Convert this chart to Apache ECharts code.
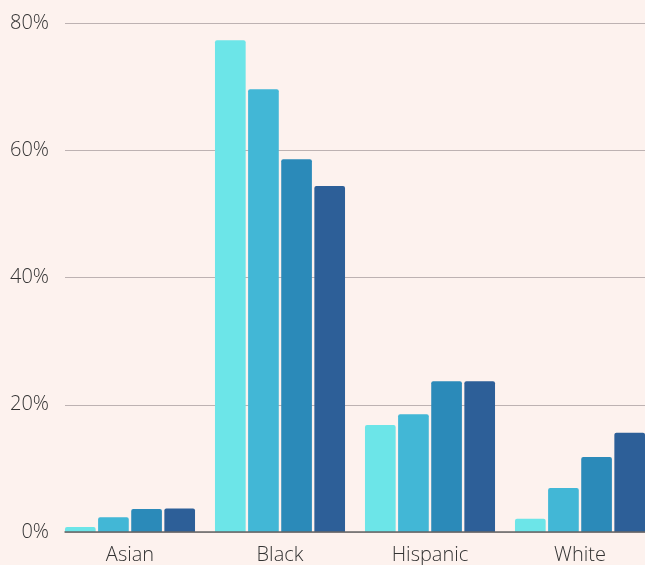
<!DOCTYPE html>
<html><head><meta charset="utf-8">
<script src="https://cdn.jsdelivr.net/npm/echarts@6/dist/echarts.min.js"></script>
<style>html,body{margin:0;padding:0;background:#fdf2ee}#c{width:645px;height:565px}</style>
</head><body><div id="c"></div>
<script>
const categories = ['Asian', 'Black', 'Hispanic', 'White'];
const series1 = [0.8, 77.3, 16.8, 2.1];
const series2 = [2.3, 69.6, 18.5, 6.9];
const series3 = [3.6, 58.6, 23.7, 11.8];
const series4 = [3.7, 54.4, 23.7, 15.6];
const yTicks = [0, 20, 40, 60, 80];
const colors = ['#6ce5e8', '#42b7d6', '#2b8ab9', '#2d5f98'];

const chart = echarts.init(document.getElementById('c'));
const font = '"Open Sans", sans-serif';
const mk = (data, i) => ({
  type: 'bar', data, xAxisIndex: 1, yAxisIndex: 1,
  barGap: '8%', barCategoryGap: '13.3%',
  itemStyle: { color: colors[i], borderRadius: [2, 2, 0, 0] },
  z: 3
});
chart.setOption({
  backgroundColor: '#fdf2ee',
  animation: false,
  grid: [
    { left: 65, right: 0, top: 23, bottom: 33, outerBoundsMode: 'none' },
    { left: 55, width: 600, top: 23, bottom: 33, outerBoundsMode: 'none' }
  ],
  xAxis: [
    { gridIndex: 0, type: 'value', min: 0, max: 1, axisLabel: { show: false }, axisTick: { show: false }, splitLine: { show: false },
      axisLine: { show: true, lineStyle: { color: '#666', width: 1.5 } }, z: 5 },
    { gridIndex: 1, type: 'category', data: categories, axisLine: { show: false }, axisTick: { show: false },
      axisLabel: { fontFamily: font, fontSize: 20, fontWeight: 300, color: '#333', margin: 13 } }
  ],
  yAxis: [
    { gridIndex: 0, type: 'value', min: yTicks[0], max: yTicks[yTicks.length - 1], interval: 20,
      axisLabel: { formatter: '{value}%', fontFamily: font, fontSize: 20, fontWeight: 300, color: '#333', margin: 16 },
      axisLine: { show: false }, axisTick: { show: false },
      splitLine: { lineStyle: { color: '#bdb2b2', width: 1 } } },
    { gridIndex: 1, type: 'value', min: 0, max: 80, show: false }
  ],
  series: [mk(series1, 0), mk(series2, 1), mk(series3, 2), mk(series4, 3)]
});
</script></body></html>
